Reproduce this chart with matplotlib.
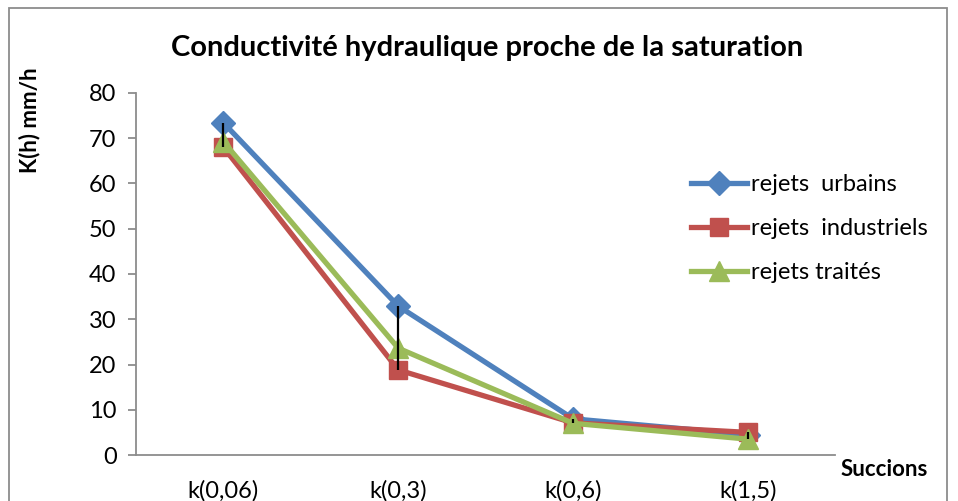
import numpy as np
import matplotlib.pyplot as plt
from matplotlib.patches import Rectangle

categories = ["k(0,06)", "k(0,3)", "k(0,6)", "k(1,5)"]
urbains = [73.4, 32.9, 8.0, 4.5]
industriels = [68.0, 18.8, 7.1, 5.0]
traites = [69.2, 23.6, 7.0, 3.5]
series_names = ["rejets  urbains", "rejets  industriels", "rejets traités"]

plt.rcParams['font.family'] = ['Lato', 'DejaVu Sans']

fig = plt.figure(figsize=(9.58, 5.01), dpi=100)
ax = fig.add_axes([0.142, 0.0918, 0.730, 0.7226])

# chart frame
fig.patches.append(Rectangle((9 / 958, -0.1), 938 / 958, 1.1 - 8 / 501, transform=fig.transFigure,
                             fill=False, edgecolor='#8c8c8c', linewidth=1.3))

x = np.arange(len(categories))
ax.plot(x, urbains, color='#4F81BD', lw=3.8, marker='D', ms=12, label=series_names[0], zorder=3)
ax.plot(x, industriels, color='#C0504D', lw=3.8, marker='s', ms=13, label=series_names[1], zorder=3)
ax.plot(x, traites, color='#9BBB59', lw=3.8, marker='^', ms=14, label=series_names[2], zorder=3)

# high-low lines
data = np.array([urbains, industriels, traites])
ax.vlines(x, data.min(axis=0), data.max(axis=0), color='black', lw=1.6, zorder=5)

ax.set_xlim(-0.5, len(categories) - 0.5)
ax.set_ylim(0, 80)
ax.set_yticks(range(0, 81, 10))
ax.set_xticks(x)
ax.set_xticklabels(categories)
for s in ['top', 'right']:
    ax.spines[s].set_visible(False)
for s in ['left', 'bottom']:
    ax.spines[s].set_color('#8c8c8c')
    ax.spines[s].set_linewidth(1.3)
ax.tick_params(axis='y', length=6, width=1.3, color='#8c8c8c', labelsize=17, pad=8)
ax.tick_params(axis='x', length=0, labelsize=17, pad=18)

ax.set_ylabel("K(h) mm/h", fontsize=16, fontweight='bold')
ax.yaxis.set_label_coords(-0.137, 0.925)
fig.text(884 / 958, 1 - 470 / 501, "Succions", fontsize=16, fontweight='bold', ha='center', va='center')
fig.text(487 / 958, 1 - 48 / 501, "Conductivité hydraulique proche de la saturation",
         fontsize=21, fontweight='bold', ha='center', va='center')

ax.legend(loc='upper left', bbox_to_anchor=(0.793, 0.775), frameon=False, fontsize=17,
          handlelength=2.4, handletextpad=0.15, labelspacing=0.97, borderaxespad=0, borderpad=0)

fig.savefig("out.png", dpi=100)
